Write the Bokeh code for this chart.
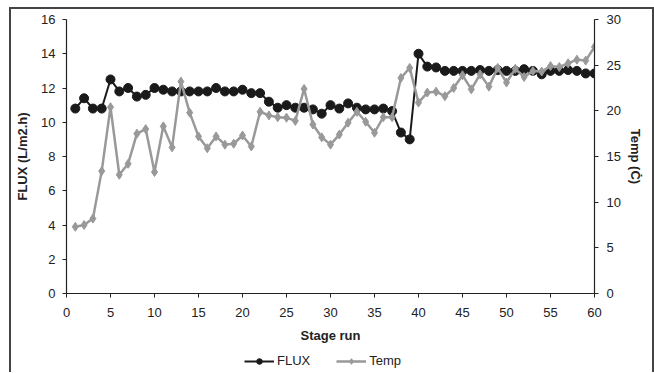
from bokeh.plotting import figure
from bokeh.models import Range1d, LinearAxis, FixedTicker, Legend, LegendItem
from bokeh.layouts import column
from bokeh.embed import file_html
from bokeh.resources import INLINE

stage = list(range(1, 61))
flux = [10.8, 11.4, 10.8, 10.8, 12.5, 11.8, 12.0, 11.5, 11.6, 12.0,
        11.9, 11.8, 11.8, 11.8, 11.8, 11.8, 12.0, 11.8, 11.8, 11.9,
        11.7, 11.7, 11.2, 10.85, 11.0, 10.85, 10.85, 10.75, 10.5, 11.0,
        10.8, 11.1, 10.85, 10.75, 10.75, 10.8, 10.65, 9.4, 9.0, 14.0,
        13.25, 13.2, 13.0, 13.0, 13.0, 13.0, 13.05, 13.0, 13.05, 13.0,
        13.0, 13.1, 13.0, 12.8, 13.0, 13.0, 13.05, 13.0, 12.85, 12.85]
temp = [7.3, 7.5, 8.2, 13.4, 20.4, 13.0, 14.2, 17.5, 18.0, 13.3,
        18.3, 16.0, 23.2, 19.8, 17.2, 15.9, 17.2, 16.3, 16.4, 17.3,
        16.1, 19.9, 19.5, 19.3, 19.25, 18.9, 22.4, 18.5, 17.1, 16.3,
        17.4, 18.7, 19.9, 18.8, 17.6, 19.3, 19.3, 23.6, 24.7, 20.9,
        22.0, 22.1, 21.6, 22.5, 23.9, 22.35, 24.0, 22.65, 24.7, 23.1,
        24.6, 23.7, 24.35, 24.3, 24.9, 24.8, 25.2, 25.6, 25.5, 27.0]
x_ticks = [0, 5, 10, 15, 20, 25, 30, 35, 40, 45, 50, 55, 60]
flux_ticks = [0, 2, 4, 6, 8, 10, 12, 14, 16]
temp_ticks = [0, 5, 10, 15, 20, 25, 30]

FONT = "Liberation Sans"
TXT = "#222222"
FLUX_C = "#1a1a1a"
TEMP_C = "#999999"

p = figure(frame_width=528, frame_height=274, output_backend="svg", toolbar_location=None,
           x_range=Range1d(0, 60), y_range=Range1d(0, 16),
           min_border_left=55, min_border_right=58, min_border_top=10,
           min_border_bottom=53)
p.extra_y_ranges = {"temp": Range1d(0, 30)}
p.outline_line_color = None
p.xgrid.grid_line_color = None
p.ygrid.grid_line_color = None
p.background_fill_color = "white"

p.line(stage, flux, line_color=FLUX_C, line_width=2)
p.scatter(stage, flux, marker="circle", size=9, fill_color=FLUX_C, line_color=FLUX_C)
p.line(stage, temp, line_color=TEMP_C, line_width=2.5, y_range_name="temp")
p.scatter(stage, temp, marker="diamond", size=9, fill_color=TEMP_C, line_color=TEMP_C,
          y_range_name="temp")

right = LinearAxis(y_range_name="temp", axis_label="Temp (Ċ)")
p.add_layout(right, "right")

for ax in [p.xaxis[0], p.yaxis[0], right]:
    ax.major_label_text_font = FONT
    ax.major_label_text_font_size = "13px"
    ax.major_label_text_color = TXT
    ax.axis_label_text_font = FONT
    ax.axis_label_text_font_size = "13px"
    ax.axis_label_text_font_style = "bold"
    ax.axis_label_text_color = TXT
    ax.axis_line_color = "#222222"
    ax.axis_line_width = 1.2
    ax.major_tick_line_color = "#222222"
    ax.major_tick_in = 0
    ax.major_tick_out = 4
    ax.minor_tick_line_color = None

p.xaxis[0].ticker = FixedTicker(ticks=x_ticks)
p.yaxis[0].ticker = FixedTicker(ticks=flux_ticks)
right.ticker = FixedTicker(ticks=temp_ticks)
p.xaxis[0].axis_label = "Stage run"
p.yaxis[0].axis_label = "FLUX (L/m2.h)"
p.xaxis[0].major_label_standoff = 10
p.xaxis[0].axis_label_standoff = 8
p.yaxis[0].major_label_standoff = 7
p.yaxis[0].axis_label_standoff = 8
right.major_label_standoff = 8
right.axis_label_standoff = 4

# legend strip below the chart; its series are kept out of view (range beyond the data),
# only their legend glyphs are shown
lg = figure(width=641, height=26, output_backend="svg", toolbar_location=None,
            x_range=Range1d(1000, 1001), y_range=Range1d(1000, 1001),
            x_axis_location=None, y_axis_location=None,
            min_border_left=0, min_border_right=0, min_border_top=0, min_border_bottom=0)
lg.outline_line_color = None
lg.xgrid.grid_line_color = None
lg.ygrid.grid_line_color = None
lf_l = lg.line(stage, flux, line_color=FLUX_C, line_width=2)
lf_m = lg.scatter(stage, flux, marker="circle", size=9, fill_color=FLUX_C, line_color=FLUX_C)
lt_l = lg.line(stage, temp, line_color=TEMP_C, line_width=2.5)
lt_m = lg.scatter(stage, temp, marker="diamond", size=9, fill_color=TEMP_C, line_color=TEMP_C)

legend = Legend(items=[LegendItem(label="FLUX", renderers=[lf_l, lf_m]),
                       LegendItem(label="Temp", renderers=[lt_l, lt_m])],
                orientation="horizontal", location=(178, 4),
                label_text_font=FONT, label_text_font_size="13px", label_text_color=TXT,
                glyph_width=30, glyph_height=14, label_height=14, label_standoff=3, spacing=26,
                padding=0, margin=0, border_line_color=None, background_fill_alpha=0)
lg.add_layout(legend)

lay = column(p, lg, spacing=0,
             styles={"border-top": "2px solid #444", "border-left": "2px solid #444",
                     "border-right": "2px solid #444", "margin-left": "9px",
                     "margin-top": "7px"})

open("out.html", "w").write(file_html(lay, INLINE))
